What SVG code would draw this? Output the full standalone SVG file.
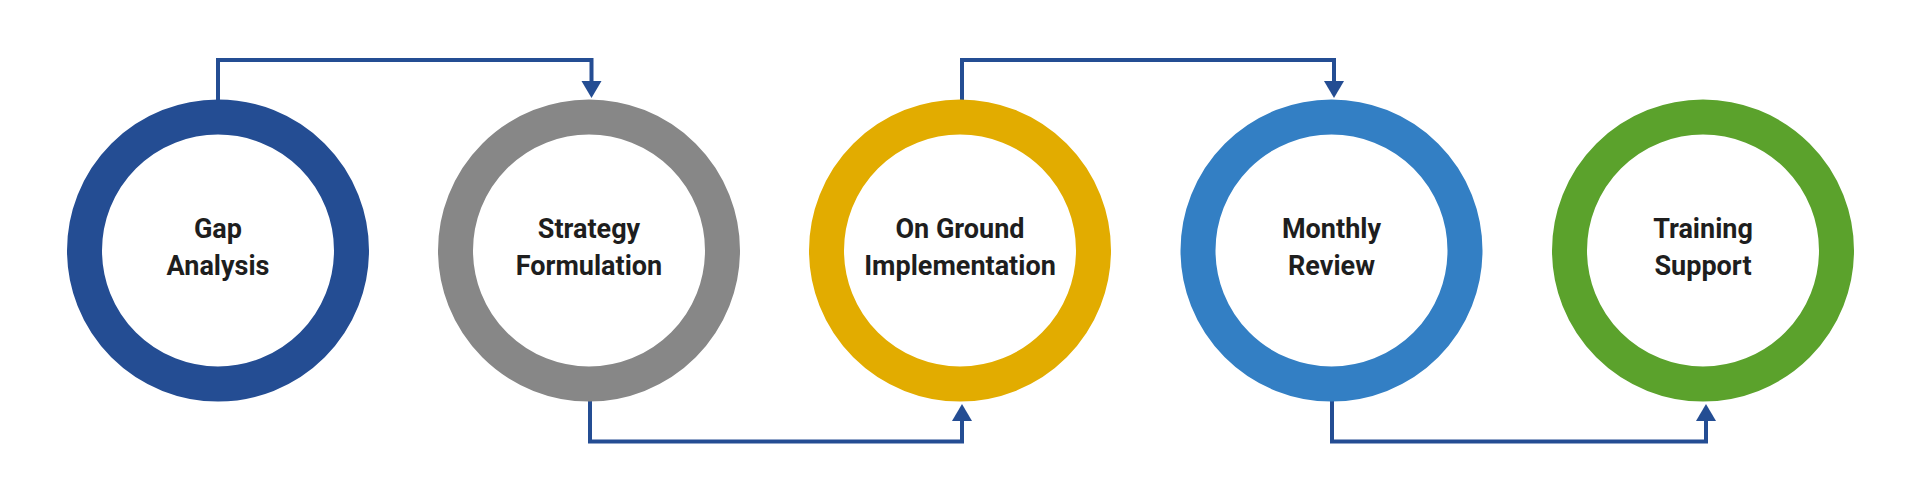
<svg xmlns="http://www.w3.org/2000/svg" width="1920" height="500" viewBox="0 0 1920 500">
<defs>
<style>
.ring{fill:#ffffff;stroke-width:35}
.lbl{font-family:Roboto,"Liberation Sans",sans-serif;font-weight:700;font-size:27px;fill:#1e1e1e;text-anchor:middle}
.conn{fill:none;stroke:#244D93;stroke-width:4;stroke-linejoin:miter}
.head{fill:#244D93}
</style>
</defs>
<rect width="1920" height="500" fill="#ffffff"/>
<g id="connectors">
<path class="conn" d="M218,100 V60 H591.5 V81"/>
<path class="head" d="M581.5,81 L601.5,81 L591.5,98 Z"/>
<path class="conn" d="M590,401 V441.5 H962 V421"/>
<path class="head" d="M952,421 L972,421 L962,404 Z"/>
<path class="conn" d="M962,100 V60 H1334 V81"/>
<path class="head" d="M1324,81 L1344,81 L1334,98 Z"/>
<path class="conn" d="M1332,401 V441.5 H1706 V421"/>
<path class="head" d="M1696,421 L1716,421 L1706,404 Z"/>
</g>
<g id="node-gap">
<circle class="ring" cx="218" cy="250.5" r="133.5" stroke="#244D93"/>
<text class="lbl" x="218" y="238">Gap</text>
<text class="lbl" x="218" y="275">Analysis</text>
</g>
<g id="node-strategy">
<circle class="ring" cx="589" cy="250.5" r="133.5" stroke="#878787"/>
<text class="lbl" x="589" y="238">Strategy</text>
<text class="lbl" x="589" y="275">Formulation</text>
</g>
<g id="node-ground">
<circle class="ring" cx="960" cy="250.5" r="133.5" stroke="#E2AC00"/>
<text class="lbl" x="960" y="238">On Ground</text>
<text class="lbl" x="960" y="275">Implementation</text>
</g>
<g id="node-review">
<circle class="ring" cx="1331.5" cy="250.5" r="133.5" stroke="#337FC4"/>
<text class="lbl" x="1331.5" y="238">Monthly</text>
<text class="lbl" x="1331.5" y="275">Review</text>
</g>
<g id="node-training">
<circle class="ring" cx="1703" cy="250.5" r="133.5" stroke="#5BA22C"/>
<text class="lbl" x="1703" y="238">Training</text>
<text class="lbl" x="1703" y="275">Support</text>
</g>
</svg>
